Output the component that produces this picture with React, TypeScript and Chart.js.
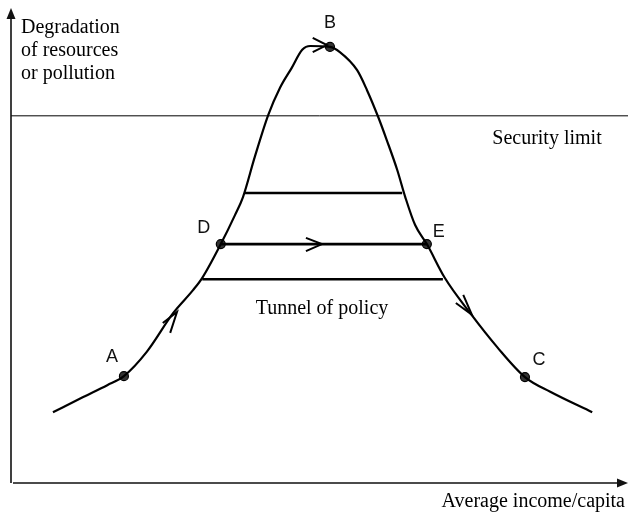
import React, { useEffect, useRef } from "react";
import { Chart, registerables } from "chart.js";

Chart.register(...registerables);

// Bell-shaped curve (income vs degradation), arbitrary units 0..100
const curveX = [6.8, 11.7, 15.6, 18.3, 22.0, 26.3, 29.5, 31.0, 34.0, 36.3, 37.6, 39.5, 41.7, 43.6, 45.5, 47.2, 48.5, 51.7, 53.3, 56.1, 57.7, 59.5, 60.9, 62.6, 63.9, 65.5, 67.4, 70.3, 74.4, 78.8, 83.3, 87.4, 94.2];
const curveY = [14.9, 18.1, 20.6, 22.5, 27.6, 35.8, 40.6, 43.2, 50.3, 56.4, 60.2, 68.6, 77.5, 83.2, 87.4, 91.2, 92.0, 91.8, 90.7, 86.9, 82.7, 77.1, 72.2, 65.9, 60.2, 54.3, 50.3, 43.2, 35.8, 28.6, 22.3, 19.2, 14.9];

// Marked points
const pointNames = ["A", "B", "C", "D", "E"];
const pointX = [18.3, 51.7, 83.3, 34.0, 67.4];
const pointY = [22.5, 91.8, 22.3, 50.3, 50.3];

// Security limit level
const securityLimit = 77.3;
const securityLabel = "Security limit";

// Tunnel of policy lines
const tunnelY = [61.05, 50.3, 42.9];
const tunnelStart = [37.9, 34.0, 31.0];
const tunnelEnd = [63.4, 67.4, 70.0];
const tunnelLabel = "Tunnel of policy";

// Direction arrowheads (barb, tip, barb)
const arrowX = [
  [24.6, 26.9, 25.8],
  [48.9, 51.2, 48.9],
  [47.8, 50.4, 47.8],
  [73.3, 74.7, 72.1],
];
const arrowY = [
  [33.7, 36.0, 31.6],
  [93.7, 92.2, 90.7],
  [51.6, 50.3, 48.8],
  [39.6, 35.4, 37.9],
];

const yAxisTitle = ["Degradation", "of resources", "or pollution"];
const xAxisTitle = "Average income/capita";

const SERIF = '"Liberation Serif", "Times New Roman", serif';
const SANS = '"Liberation Sans", Arial, sans-serif';

const labelOffsets: Record<string, [number, number]> = {
  A: [-12, -19],
  B: [0, -24],
  C: [14, -17],
  D: [-17, -16],
  E: [12, -12],
};

const decorPlugin = {
  id: "decor",
  afterDatasetsDraw(chart: any) {
    const ctx = chart.ctx as CanvasRenderingContext2D;
    const { left, right, top, bottom } = chart.chartArea;
    const xs = chart.scales.x;
    const ys = chart.scales.y;
    ctx.save();
    // axes
    ctx.strokeStyle = "#111";
    ctx.fillStyle = "#111";
    ctx.lineWidth = 1.6;
    ctx.beginPath();
    ctx.moveTo(left, bottom);
    ctx.lineTo(left, top + 8);
    ctx.moveTo(left + 2, bottom);
    ctx.lineTo(right - 8, bottom);
    ctx.stroke();
    ctx.beginPath();
    ctx.moveTo(left, top);
    ctx.lineTo(left - 4.5, top + 11);
    ctx.lineTo(left + 4.5, top + 11);
    ctx.closePath();
    ctx.fill();
    ctx.beginPath();
    ctx.moveTo(right, bottom);
    ctx.lineTo(right - 11, bottom - 4.5);
    ctx.lineTo(right - 11, bottom + 4.5);
    ctx.closePath();
    ctx.fill();

    // texts
    ctx.fillStyle = "#000";
    ctx.font = `20px ${SERIF}`;
    ctx.textBaseline = "alphabetic";
    ctx.textAlign = "left";
    yAxisTitle.forEach((t, i) => ctx.fillText(t, left + 10, top + 25 + i * 23));
    ctx.textAlign = "right";
    ctx.fillText(xAxisTitle, right - 3, bottom + 24);
    ctx.textAlign = "left";
    ctx.fillText(securityLabel, xs.getPixelForValue(78.0), ys.getPixelForValue(securityLimit) + 28);
    ctx.textAlign = "center";
    ctx.fillText(tunnelLabel, xs.getPixelForValue(50.4), ys.getPixelForValue(tunnelY[2]) + 35);

    // point labels
    ctx.font = `18px ${SANS}`;
    ctx.textBaseline = "middle";
    ctx.fillStyle = "#111";
    pointNames.forEach((n, i) => {
      const [dx, dy] = labelOffsets[n];
      ctx.fillText(n, xs.getPixelForValue(pointX[i]) + dx, ys.getPixelForValue(pointY[i]) + dy);
    });
    ctx.restore();
  },
};

export default function App() {
  const ref = useRef<HTMLCanvasElement | null>(null);
  useEffect(() => {
    if (!ref.current) return;
    const datasets: any[] = [];
    datasets.push({
      type: "line",
      data: curveX.map((x, i) => ({ x, y: curveY[i] })),
      borderColor: "#000",
      borderWidth: 2.2,
      pointRadius: 0,
      tension: 0.4,
      cubicInterpolationMode: "monotone",
      fill: false,
    });
    datasets.push({
      type: "line",
      data: [
        { x: 0, y: securityLimit },
        { x: 100, y: securityLimit },
      ],
      borderColor: "#000",
      borderWidth: 1,
      pointRadius: 0,
      fill: false,
    });
    tunnelY.forEach((y, i) => {
      datasets.push({
        type: "line",
        data: [
          { x: tunnelStart[i], y },
          { x: tunnelEnd[i], y },
        ],
        borderColor: "#000",
        borderWidth: 2.6,
        pointRadius: 0,
        fill: false,
      });
    });
    arrowX.forEach((ax, i) => {
      datasets.push({
        type: "line",
        data: ax.map((x, j) => ({ x, y: arrowY[i][j] })),
        borderColor: "#000",
        borderWidth: 2,
        pointRadius: 0,
        tension: 0,
        fill: false,
      });
    });
    datasets.push({
      type: "scatter",
      data: pointX.map((x, i) => ({ x, y: pointY[i] })),
      backgroundColor: "#333",
      borderColor: "#000",
      borderWidth: 1.2,
      pointRadius: 4.5,
    });
    const chart = new Chart(ref.current, {
      type: "line",
      data: { datasets },
      options: {
        animation: false,
        responsive: false,
        maintainAspectRatio: false,
        layout: { autoPadding: false, padding: { left: 11, top: 8, right: 1, bottom: 39 } },
        plugins: { legend: { display: false }, tooltip: { enabled: false } },
        scales: {
          x: { type: "linear", min: 0, max: 100, display: false },
          y: { type: "linear", min: 0, max: 100, display: false },
        },
      },
      plugins: [decorPlugin],
    } as any);
    return () => chart.destroy();
  }, []);
  return (
    <div style={{ position: "absolute", left: 0, top: 0, width: 629, height: 522, background: "#fff" }}>
      <canvas ref={ref} width={629} height={522} style={{ display: "block" }} />
    </div>
  );
}
